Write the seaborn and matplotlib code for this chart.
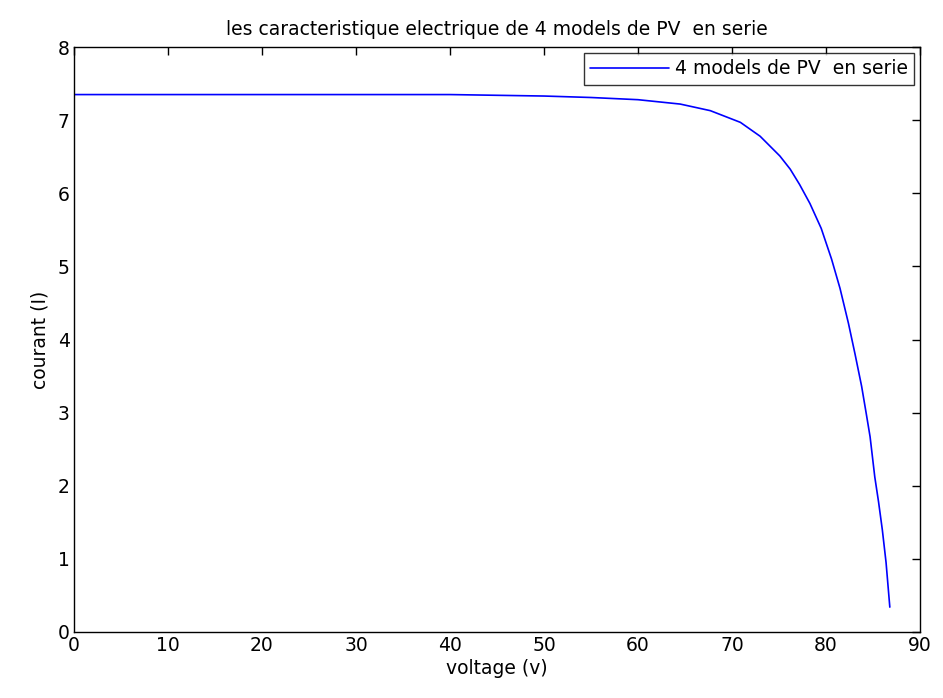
import matplotlib
matplotlib.use("Agg")
import matplotlib.pyplot as plt
import seaborn as sns
import pandas as pd

# I-V characteristic of four PV modules in series
voltage = [0, 10, 20, 30, 40, 45, 50, 55, 60, 64.5, 67.7, 70.9, 73.0, 75.1,
           76.2, 77.2, 78.3, 79.5, 80.6, 81.5, 82.4, 83.1, 83.8, 84.3, 84.7,
           85.2, 85.6, 86.0, 86.4, 86.8]
current = [7.35, 7.35, 7.35, 7.35, 7.35, 7.34, 7.33, 7.31, 7.28, 7.22, 7.13,
           6.97, 6.78, 6.51, 6.33, 6.12, 5.86, 5.52, 5.10, 4.70, 4.22, 3.80,
           3.36, 2.98, 2.67, 2.12, 1.78, 1.40, 0.95, 0.34]
xticks = [0, 10, 20, 30, 40, 50, 60, 70, 80, 90]
yticks = [0, 1, 2, 3, 4, 5, 6, 7, 8]

sns.set_theme(style="white")
plt.rcParams["font.family"] = ["DejaVu Sans"]
plt.rcParams["text.color"] = "black"
plt.rcParams["axes.labelcolor"] = "black"

df = pd.DataFrame({"voltage": voltage, "current": current})

fig = plt.figure(figsize=(9.43, 6.98), dpi=100)
ax = fig.add_axes([0.0785, 0.0946, 0.897, 0.838])
sns.lineplot(data=df, x="voltage", y="current", sort=False, color="#0000ff",
             linewidth=1.2, label="4 models de PV  en serie", ax=ax)

fs = 13.5
ax.set_xlim(0, 90)
ax.set_ylim(0, 8)
ax.set_xticks(xticks)
ax.set_yticks(yticks)
ax.tick_params(direction="in", length=6, width=1, top=True, right=True,
               labelsize=fs, colors="black", pad=3)
for s in ax.spines.values():
    s.set_color("black")
    s.set_linewidth(1)
ax.set_xlabel("voltage (v)", fontsize=fs, labelpad=3)
ax.set_ylabel("courant (I)", fontsize=fs, labelpad=6)
ax.set_title("les caracteristique electrique de 4 models de PV  en serie",
             fontsize=fs, pad=9, color="black")
leg = ax.legend(loc="upper right", fontsize=fs, frameon=True, fancybox=False,
                borderaxespad=0.3, handlelength=4.2, handletextpad=0.3,
                borderpad=0.35)
leg.get_frame().set_edgecolor("black")
leg.get_frame().set_linewidth(1)
for t in leg.get_texts():
    t.set_color("black")

fig.savefig("out.png", dpi=100, facecolor="white")
